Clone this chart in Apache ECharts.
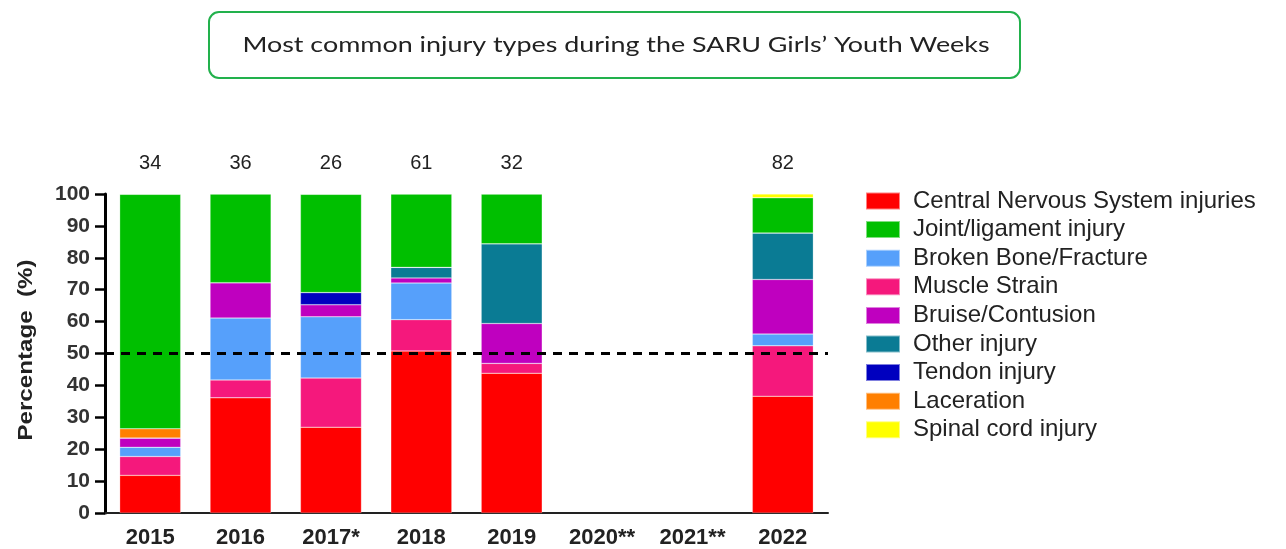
<!DOCTYPE html>
<html><head><meta charset="utf-8">
<script src="https://cdn.jsdelivr.net/npm/echarts@6/dist/echarts.min.js"></script>
<style>html,body{margin:0;padding:0;background:#fff;}#c{width:1286px;height:549px;}</style>
</head><body><div id="c"></div>
<script>
const categories = ['2015','2016','2017*','2018','2019','2020**','2021**','2022'];
const nLabels = ['34','36','26','61','32','','','82'];
const cns        = [11.8, 36.1, 26.9, 50.8, 43.8, null, null, 36.6];
const muscle     = [5.9, 5.6, 15.4, 9.8, 3.1, null, null, 15.8];
const broken     = [2.9, 19.4, 19.2, 11.5, 0, null, null, 3.7];
const bruise     = [2.9, 11.1, 3.8, 1.6, 12.5, null, null, 17.1];
const other      = [0, 0, 0, 3.3, 25.0, null, null, 14.6];
const tendon     = [0, 0, 3.8, 0, 0, null, null, 0];
const laceration = [2.9, 0, 0, 0, 0, null, null, 0];
const joint      = [73.5, 27.8, 30.8, 23.0, 15.6, null, null, 11.0];
const spinal     = [0, 0, 0, 0, 0, null, null, 1.2];
const legendOrder = ['Central Nervous System injuries','Joint/ligament injury','Broken Bone/Fracture','Muscle Strain','Bruise/Contusion','Other injury','Tendon injury','Laceration','Spinal cord injury'];

const stackDefs = [
  ['Central Nervous System injuries', cns, '#ff0000'],
  ['Muscle Strain', muscle, '#f5187c'],
  ['Broken Bone/Fracture', broken, '#56a0fb'],
  ['Bruise/Contusion', bruise, '#bf00bf'],
  ['Other injury', other, '#0a7b94'],
  ['Tendon injury', tendon, '#0000bf'],
  ['Laceration', laceration, '#ff7f00'],
  ['Joint/ligament injury', joint, '#00bf00'],
  ['Spinal cord injury', spinal, '#ffff00']
];

const series = stackDefs.map(function(d, i){
  const s = {
    name: d[0], type: 'bar', stack: 'total', data: d[1], barWidth: 61,
    itemStyle: {color: d[2], borderColor: 'rgba(255,255,255,0.5)', borderWidth: 0.5},
    emphasis: {disabled: true}
  };
  if (i === 0) {
    s.markLine = {
      silent: true, symbol: 'none', label: {show: false},
      lineStyle: {color: '#000', width: 3, type: [9, 7]},
      data: [{yAxis: 50}]
    };
  }
  return s;
});

const chart = echarts.init(document.getElementById('c'), null, {renderer: 'canvas'});
chart.setOption({
  animation: false,
  backgroundColor: '#fff',
  graphic: [
    {type: 'rect', shape: {x: 209, y: 12, width: 811, height: 66, r: 10}, style: {fill: '#fff', stroke: '#22b14c', lineWidth: 2}},
    {type: 'text', x: 616, y: 45, scaleX: 1.28, style: {text: 'Most common injury types during the SARU Girls\u2019 Youth Weeks', font: '21px Lato, "Open Sans", sans-serif', fill: '#222', textAlign: 'center', textVerticalAlign: 'middle'}},
    {type: 'text', x: 26, y: 350, rotation: Math.PI/2, scaleX: 1.15, style: {text: 'Percentage  (%)', font: 'bold 21px "Liberation Sans", Arial, sans-serif', fill: '#222', textAlign: 'center', textVerticalAlign: 'middle'}}
  ],
  legend: {
    data: legendOrder, orient: 'vertical', left: 860, top: 184,
    itemWidth: 34, itemHeight: 17, itemGap: 4.6, icon: 'rect',
    textStyle: {fontSize: 24, color: '#222', fontFamily: '"Liberation Sans", Arial, sans-serif', padding: [0,0,0,8]},
    selectedMode: false
  },
  grid: {left: 105, right: 458, top: 194, bottom: 36, containLabel: false},
  xAxis: [
    {type: 'category', data: categories, position: 'bottom',
     axisLine: {lineStyle: {color: '#222', width: 2}}, axisTick: {show: false},
     axisLabel: {fontSize: 22, fontWeight: 'bold', color: '#222', margin: 14, fontFamily: '"Liberation Sans", Arial, sans-serif'}},
    {type: 'category', data: nLabels, position: 'top',
     axisLine: {show: false}, axisTick: {show: false},
     axisLabel: {fontSize: 20, color: '#222', margin: 21, fontFamily: '"Liberation Sans Narrow", "Liberation Sans", Arial, sans-serif'}}
  ],
  yAxis: {
    type: 'value', min: 0, max: 100, interval: 10,
    splitLine: {show: false},
    axisLine: {show: true, lineStyle: {color: '#000', width: 3}},
    axisTick: {show: true, length: 10, lineStyle: {color: '#000', width: 2.5}},
    axisLabel: {fontSize: 21, fontWeight: 'bold', color: '#333', margin: 15, fontFamily: '"Liberation Sans", Arial, sans-serif'}
  },
  series: series
});
</script></body></html>
